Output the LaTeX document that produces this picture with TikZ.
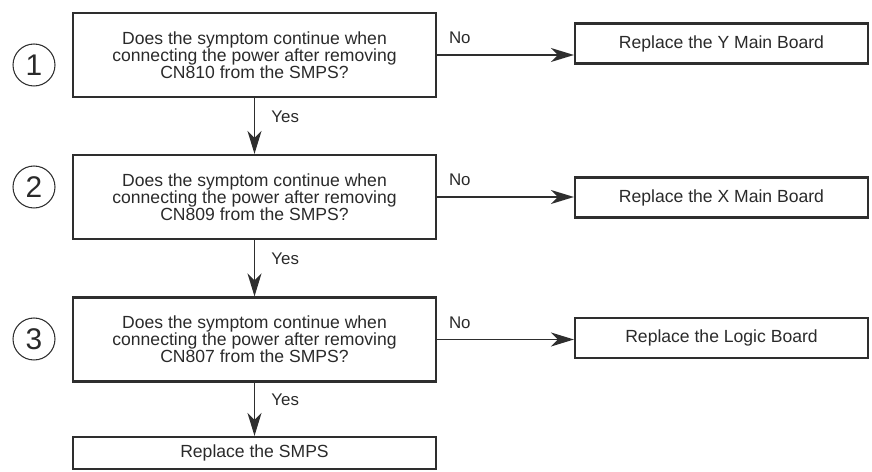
\documentclass[tikz,border=0pt]{standalone}
\usepackage{fontspec}
\setmainfont{Liberation Sans}
\usetikzlibrary{arrows.meta, positioning}
\definecolor{cline}{HTML}{2E2E2E}
\definecolor{ctext}{HTML}{2A2A2A}
\tikzset{
  every picture/.style={line width=1.25pt},
  box/.style={draw=cline, align=center, text=ctext, inner sep=2pt, font=\fontsize{10}{9.8}\selectfont},
  ask/.style={box, minimum width=7.26cm, minimum height=1.68cm},
  fix/.style={box, minimum width=5.86cm, minimum height=0.8cm},
  arrow/.style={-{Stealth[length=4.6mm, width=2.8mm, inset=1.4mm]}, draw=cline, line width=1.1pt},
  tag/.style={font=\fontsize{9.6}{9.6}\selectfont, text=ctext, inner sep=0pt},
  stepnum/.style={circle, draw=cline, line width=0.6pt, minimum size=0.84cm, inner sep=0pt, font=\fontsize{17}{17}\selectfont, text=ctext},
}

\begin{document}
\begin{tikzpicture}[x=0.02cm, y=-0.02cm]
  \useasboundingbox (0,0) rectangle (872,472);
  % the three checks, each with its "No" branch
  \foreach \i/\y/\cy/\cn/\what/\ry in {1/55/65/810/Y Main Board/43.5, 2/197/187/809/X Main Board/197.5, 3/339.5/339/807/Logic Board/338} {
    \node[ask] (q\i) at (254.5,\y) {Does the symptom continue when\\connecting the power after removing\\CN\cn{} from the SMPS?};
    \node[stepnum] (n\i) at (34,\cy) {\i};
    \node[fix] (r\i) at (721.5,\ry) {Replace the \what};
    \draw[arrow] (q\i.east) -- (q\i.east -| r\i.west)
      node[tag, pos=0, anchor=south west, xshift=0.22cm, yshift=0.2cm] {No};
  }
  \node[box, minimum width=7.26cm, minimum height=0.64cm] (smps) at (254.5,453) {Replace the SMPS};
  % "Yes" goes down to the next box
  \draw[arrow] (q1) -- (q2) node[tag, pos=0.33, right=0.32cm] {Yes};
  \draw[arrow] (q2) -- (q3) node[tag, pos=0.33, right=0.32cm] {Yes};
  \draw[arrow] (q3) -- (smps) node[tag, pos=0.33, right=0.32cm] {Yes};
\end{tikzpicture}
\end{document}
